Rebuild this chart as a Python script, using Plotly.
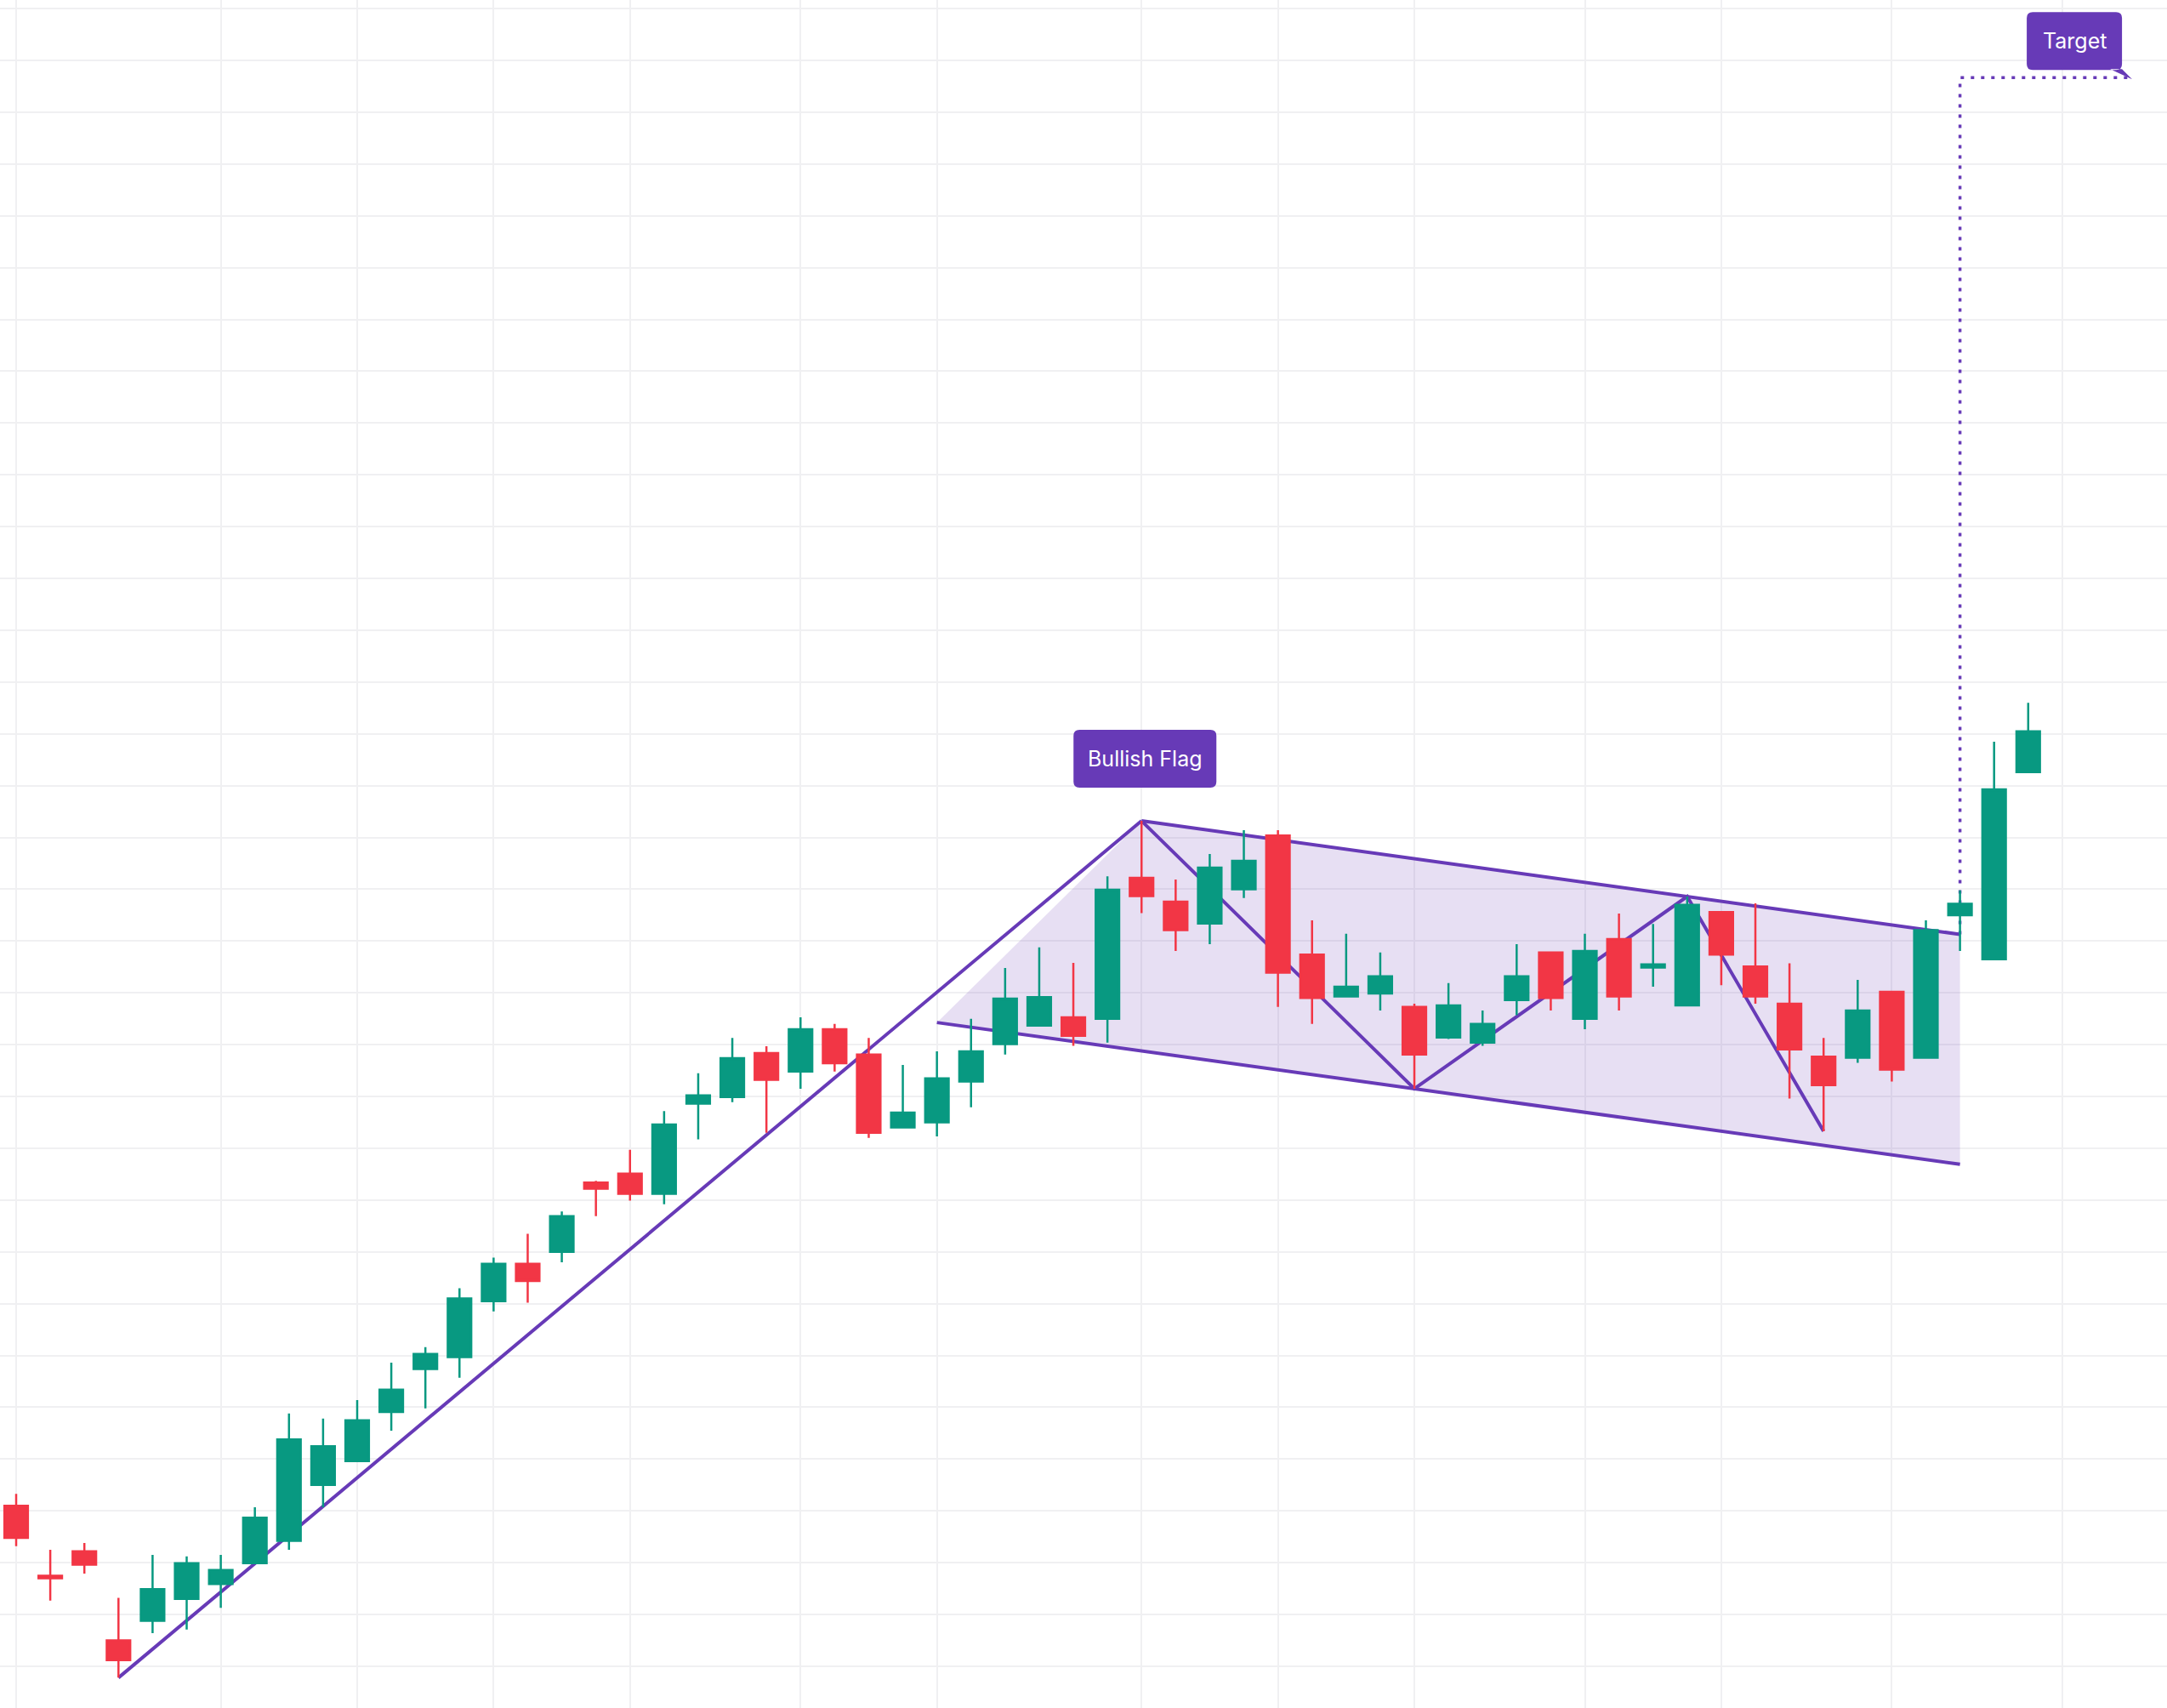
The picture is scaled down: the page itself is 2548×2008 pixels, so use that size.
import plotly.graph_objects as go

# daily bars, x = bar index
opens = [43.10, 41.75, 42.22, 40.50, 40.88, 41.30, 41.59, 41.99, 42.42, 43.50,
         43.96, 44.91, 45.74, 45.97, 47.05, 47.77, 48.00, 49.34, 49.51, 49.12,
         50.86, 50.99, 51.84, 51.48, 52.30, 51.81, 50.40, 50.50, 51.29, 52.01,
         52.37, 52.53, 52.50, 55.22, 54.76, 54.34, 55.00, 56.04, 53.74, 52.93,
         52.99, 52.73, 52.14, 52.04, 52.86, 53.78, 52.50, 54.04, 53.49, 52.76,
         54.56, 53.51, 52.79, 51.77, 51.75, 53.02, 51.75, 54.50, 53.65, 57.26]
highs = [43.33, 42.25, 42.38, 41.32, 42.15, 42.12, 42.15, 43.07, 44.88, 44.78,
         45.14, 45.86, 46.16, 47.30, 47.89, 48.35, 48.78, 49.37, 49.97, 50.72,
         51.45, 52.13, 51.97, 52.53, 52.40, 52.13, 51.61, 51.87, 52.50, 53.48,
         53.88, 53.58, 55.25, 56.32, 55.19, 55.68, 56.14, 56.14, 54.40, 54.14,
         53.78, 52.79, 53.19, 52.66, 53.94, 53.78, 54.14, 54.53, 54.33, 54.86,
         54.56, 54.73, 53.57, 52.13, 53.25, 53.02, 54.40, 54.98, 57.85, 58.60]
lows = [42.32, 41.27, 41.79, 39.78, 40.64, 40.71, 41.13, 41.99, 42.25, 43.07,
        43.96, 44.55, 44.98, 45.57, 46.85, 47.02, 47.80, 48.69, 48.99, 48.92,
        50.17, 50.89, 50.30, 51.15, 51.48, 50.20, 50.40, 50.23, 50.79, 51.81,
        52.37, 51.98, 52.04, 54.54, 53.81, 53.94, 54.83, 52.73, 52.40, 52.93,
        52.66, 51.15, 52.11, 51.98, 52.57, 52.66, 52.30, 52.66, 53.12, 52.76,
        53.15, 52.79, 50.96, 50.33, 51.65, 51.29, 51.75, 53.81, 53.65, 57.26]
closes = [42.48, 41.70, 41.96, 40.12, 41.49, 41.99, 41.86, 42.87, 44.38, 44.25,
          44.75, 45.34, 46.03, 47.10, 47.77, 47.44, 48.69, 49.22, 49.12, 50.46,
          51.02, 51.74, 51.32, 52.30, 51.64, 50.30, 50.69, 51.35, 51.87, 52.89,
          52.92, 52.17, 54.99, 54.87, 54.21, 55.42, 55.55, 53.39, 52.90, 53.12,
          53.32, 51.81, 52.76, 52.40, 53.32, 52.90, 53.81, 52.93, 53.55, 54.70,
          53.74, 52.93, 51.91, 51.22, 52.66, 51.52, 54.21, 54.72, 56.93, 58.05]
bars = list(range(len(opens)))

# pattern pivots (bar indices)
pole_start = 3
flag_peak = 33
swing_low = 41
swing_high = 49
last_low = 53
flag_start = 27
breakout = 57
label_end = 62

# vertical grid positions (bar indices)
grid_bars = [0, 6, 10, 14, 18, 23, 27, 33, 37, 41, 46, 50, 55, 60]

PURPLE = "#673AB7"
GREEN = "#089981"
RED = "#F23645"

slope = (highs[swing_high] - highs[flag_peak]) / (swing_high - flag_peak)
upper = lambda x: highs[flag_peak] + slope * (x - flag_peak)
lower = lambda x: lows[swing_low] + slope * (x - swing_low)
pole_height = highs[flag_peak] - lows[pole_start]
target = upper(breakout) + pole_height


def path_of(xs, ys, close=False):
    p = "M " + " L ".join(f"{x},{y}" for x, y in zip(xs, ys))
    return p + (" Z" if close else "")


def rounded_box(x0, x1, y0, y1, r, tail=""):
    return (f"M {x0 + r},{y0} L {x1 - r},{y0} Q {x1},{y0} {x1},{y0 + r} "
            f"L {x1},{y1 - r} Q {x1},{y1} {x1 - r},{y1} L {x0 + r},{y1} "
            f"Q {x0},{y1} {x0},{y1 - r} L {x0},{y0 + r} Q {x0},{y0} {x0 + r},{y0} Z" + tail)


fig = go.Figure()

fig.add_trace(go.Candlestick(
    x=bars, open=opens, high=highs, low=lows, close=closes,
    increasing=dict(line=dict(color=GREEN, width=2.5), fillcolor=GREEN),
    decreasing=dict(line=dict(color=RED, width=2.5), fillcolor=RED),
))

# flag area + pattern lines, drawn under the candles
fig.add_shape(type="path", layer="between",
              path=path_of([flag_start, flag_peak, breakout, breakout],
                           [lower(flag_start), highs[flag_peak], upper(breakout), lower(breakout)], True),
              fillcolor="rgba(103,58,183,0.16)", line_width=0)

line_style = dict(color=PURPLE, width=4)
for xs, ys in [
    ([pole_start, flag_peak], [lows[pole_start], highs[flag_peak]]),
    ([flag_peak, breakout], [highs[flag_peak], upper(breakout)]),
    ([flag_start, breakout], [lower(flag_start), lower(breakout)]),
    ([flag_peak, swing_low, swing_high, last_low],
     [highs[flag_peak], lows[swing_low], highs[swing_high], lows[last_low]]),
]:
    fig.add_shape(type="path", layer="between", path=path_of(xs, ys), line=line_style)

fig.add_shape(type="path", layer="between",
              path=path_of([breakout, breakout, label_end], [upper(breakout), target, target]),
              line=dict(color=PURPLE, width=3.5, dash="4px,8px"))

# label boxes (pixel sized, anchored on the pattern)
fig.add_shape(type="path", layer="above", xsizemode="pixel", ysizemode="pixel",
              xanchor=flag_peak, yanchor=highs[flag_peak],
              path=rounded_box(-80, 88, 39, 107, 7), fillcolor=PURPLE, line_width=0)
fig.add_shape(type="path", layer="above", xsizemode="pixel", ysizemode="pixel",
              xanchor=label_end, yanchor=target,
              path=rounded_box(-122, -10, 9, 77, 7, " M -24,10 L -10,10 L 2,-2 Z"),
              fillcolor=PURPLE, line_width=0)

label_font = dict(family="Inter", size=25, color="white")
fig.add_annotation(x=flag_peak, y=highs[flag_peak], text="Bullish Flag", showarrow=False,
                   xshift=4, yshift=73, font=label_font)
fig.add_annotation(x=label_end, y=target, text="Target", showarrow=False,
                   xshift=-66, yshift=43, font=label_font)

fig.update_xaxes(range=[-0.474, 63.07], tickvals=grid_bars, showticklabels=False,
                 showgrid=True, gridcolor="#F0F0F2", gridwidth=2, zeroline=False,
                 rangeslider_visible=False)
fig.update_yaxes(range=[39.195, 72.167], dtick=1, showticklabels=False,
                 showgrid=True, gridcolor="#F0F0F2", gridwidth=2, zeroline=False)
fig.update_layout(
    width=2548, height=2008,
    margin=dict(l=0, r=0, t=0, b=0),
    paper_bgcolor="white", plot_bgcolor="white",
    showlegend=False,
    boxgap=0.31, boxgroupgap=0,
)

fig.write_html("out.html", config={"displayModeBar": False},
               post_script="document.body.style.margin='0';")
